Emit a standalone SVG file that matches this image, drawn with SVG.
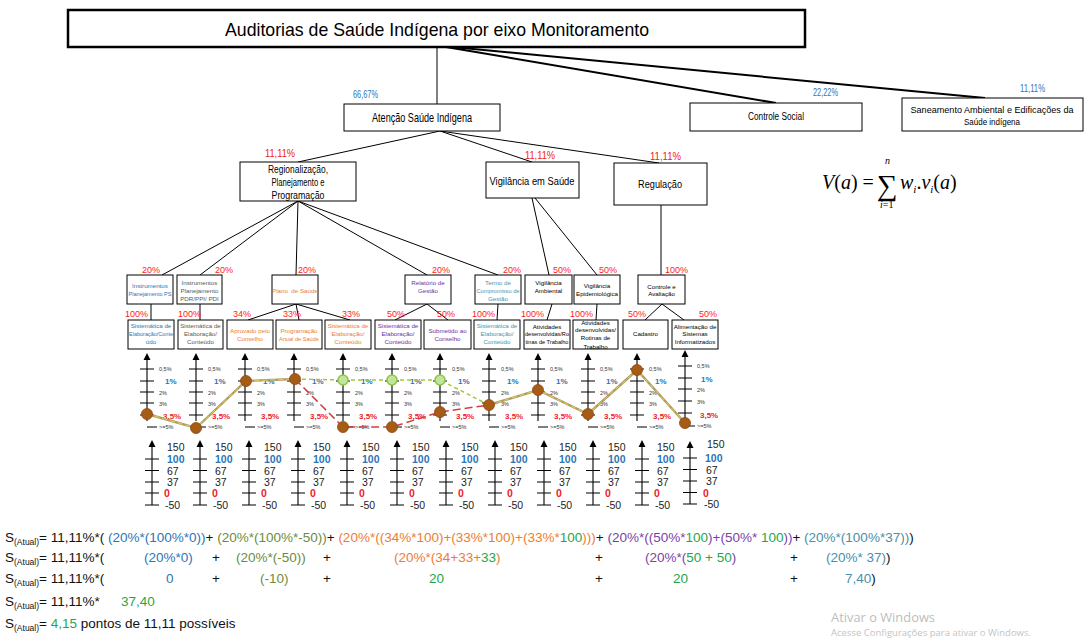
<svg xmlns="http://www.w3.org/2000/svg" width="1085" height="640" viewBox="0 0 1085 640">
<style>
text{font-family:"Liberation Sans",Arial,sans-serif;fill:#000}
.box{fill:#fff;stroke:#000;stroke-width:1}
.ln{fill:none;stroke:#000;stroke-width:1}
.lnb{fill:none;stroke:#000;stroke-width:2}
.bt{font-size:6.2px;text-anchor:middle}
.mid{text-anchor:middle}
.pr{font-size:9px;fill:#ff1a1a}
.pb{font-size:10px;fill:#2e75b6}
.p2{font-size:10px;fill:#ee2222}
.cBlue{fill:#2e75b6}.cGray{fill:#5a5a4a}.cOr{fill:#ed7d31}.cPu{fill:#7030a0}.cTe{fill:#3f97b3}
.axis{fill:none;stroke:#000;stroke-width:1.1}
.arr{fill:#000}
.s{font-size:5.5px;fill:#333}
.b1{font-size:8px;font-weight:bold;fill:#2e75b6}
.r35{font-size:8px;font-weight:bold;fill:#f0202a}
.n{font-size:10.5px;fill:#222}
.nb{font-size:10.5px;font-weight:bold;fill:#2e75b6}
.nr{font-size:10.5px;font-weight:bold;fill:#f0202a}
.f{font-size:13.5px;fill:#111}
.sub{font-size:8.5px}
.fb{fill:#2e75b6}.fo{fill:#6e8b3d}.for{fill:#ed7d31}.fp{fill:#7b3fa8}.ft{fill:#4a8fa8}.fg{fill:#1fa64a}
.brown{fill:#a65c14;stroke:#8b4513;stroke-width:0.8}
.green{fill:#c2e59a;stroke:#8cc84b;stroke-width:1.6}
.serif{font-family:"Liberation Serif","Times New Roman",serif}
</style>

<!-- tree connectors -->
<g id="connectors">
  <path class="ln" d="M437,47 V104"/>
  <path class="lnb" d="M446,47 L776,103"/>
  <path class="lnb" d="M452,47 L985,98"/>
  <path class="ln" d="M440,131 L298,162 M440,131 L532,162 M440,131 L659,163"/>
  <path class="ln" d="M298,201 L162,275 M298,201 L200,275 M298,201 L296,275 M298,201 L427,275 M298,201 L498,275"/>
  <path class="ln" d="M532,198 L549,275 M535,198 L597,275"/>
  <path class="ln" d="M661,205 V275"/>
  <path class="ln" d="M151,304 V320 M200,304 V320"/>
  <path class="ln" d="M296,304 L248,320 M296,304 L299,320 M296,304 L350,320"/>
  <path class="ln" d="M427,304 L395,320 M427,304 L448,320"/>
  <path class="ln" d="M498,304 L497,320 M552,304 L547,320 M597,304 L596,320"/>
  <path class="ln" d="M662,304 L645,320 M662,304 L684,320"/>
</g>

<!-- top levels -->
<g id="n-title">
  <rect x="68" y="10" width="737" height="37" fill="#fff" stroke="#000" stroke-width="2.5"/>
  <text x="437" y="36" class="mid" font-size="19" textLength="424" lengthAdjust="spacingAndGlyphs">Auditorias de Saúde Indígena por eixo Monitoramento</text>
</g>
<g id="n-atencao">
  <text x="353" y="98" class="pb" textLength="25" lengthAdjust="spacingAndGlyphs">66,67%</text>
  <rect class="box" x="344" y="104" width="156" height="27"/>
  <text x="422" y="122" class="mid" font-size="13" textLength="100" lengthAdjust="spacingAndGlyphs">Atenção Saúde Indígena</text>
</g>
<g id="n-controle-social">
  <text x="813" y="96" class="pb" textLength="25" lengthAdjust="spacingAndGlyphs">22,22%</text>
  <rect class="box" x="690" y="103" width="172" height="28"/>
  <text x="776" y="120" class="mid" font-size="10" textLength="56" lengthAdjust="spacingAndGlyphs">Controle Social</text>
</g>
<g id="n-saneamento">
  <text x="1020" y="92" class="pb" textLength="25" lengthAdjust="spacingAndGlyphs">11,11%</text>
  <rect class="box" x="902" y="98" width="181" height="33"/>
  <text x="992" y="113" class="mid" font-size="9.5" textLength="163" lengthAdjust="spacingAndGlyphs">Saneamento Ambiental e Edificações da</text>
  <text x="992" y="125" class="mid" font-size="9.5" textLength="56" lengthAdjust="spacingAndGlyphs">Saúde indígena</text>
</g>

<!-- second level -->
<g id="n-regionalizacao">
  <text x="265" y="157" class="p2" textLength="30" lengthAdjust="spacingAndGlyphs">11,11%</text>
  <rect class="box" x="240" y="162" width="116" height="39"/>
  <text x="298" y="173" class="mid" font-size="10" textLength="60" lengthAdjust="spacingAndGlyphs">Regionalização,</text>
  <text x="298" y="186" class="mid" font-size="10" textLength="53" lengthAdjust="spacingAndGlyphs">Planejamento e</text>
  <text x="298" y="199" class="mid" font-size="10" textLength="53" lengthAdjust="spacingAndGlyphs">Programação</text>
</g>
<g id="n-vigilancia">
  <text x="525" y="159" class="p2" textLength="30" lengthAdjust="spacingAndGlyphs">11,11%</text>
  <rect class="box" x="486" y="162" width="93" height="36"/>
  <text x="532" y="185" class="mid" font-size="10" textLength="85" lengthAdjust="spacingAndGlyphs">Vigilância em Saúde</text>
</g>
<g id="n-regulacao">
  <text x="650" y="160" class="p2" textLength="31" lengthAdjust="spacingAndGlyphs">11,11%</text>
  <rect class="box" x="614" y="163" width="93" height="42"/>
  <text x="660" y="188" class="mid" font-size="10" textLength="44" lengthAdjust="spacingAndGlyphs">Regulação</text>
</g>

<!-- third level -->
<g id="n-instr-ps">
  <text x="142" y="272.5" class="pr">20%</text>
  <rect class="box" x="127" y="275" width="46" height="29"/>
  <text x="150" y="288" class="bt cBlue">Instrumentos</text>
  <text x="150" y="296" class="bt cBlue" textLength="43" lengthAdjust="spacingAndGlyphs">Planejamento PS</text>
</g>
<g id="n-instr-pdr">
  <text x="215" y="272.5" class="pr">20%</text>
  <rect class="box" x="177" y="275" width="45" height="29"/>
  <text x="199.5" y="285" class="bt cGray">Instrumentos</text>
  <text x="199.5" y="293" class="bt cGray">Planejamento</text>
  <text x="199.5" y="301" class="bt cGray">PDR/PPI/ PDI</text>
</g>
<g id="n-plano">
  <text x="298" y="272.5" class="pr">20%</text>
  <rect class="box" x="272" y="275" width="46" height="29"/>
  <text x="295" y="293" class="bt cOr" xml:space="preserve">Plano  de Saúde</text>
</g>
<g id="n-relatorio">
  <text x="432" y="272.5" class="pr">20%</text>
  <rect class="box" x="405" y="275" width="46" height="29"/>
  <text x="428" y="285" class="bt cPu">Relatório de</text>
  <text x="428" y="293" class="bt cPu">Gestão</text>
</g>
<g id="n-termo">
  <text x="503" y="272.5" class="pr">20%</text>
  <rect class="box" x="475" y="275" width="46" height="29"/>
  <text x="498" y="285" class="bt cTe">Termo de</text>
  <text x="498" y="293" class="bt cTe" textLength="43" lengthAdjust="spacingAndGlyphs">Compromisso de</text>
  <text x="498" y="301" class="bt cTe">Gestão</text>
</g>
<g id="n-vig-ambiental">
  <text x="553" y="272.5" class="pr">50%</text>
  <rect class="box" x="525" y="275" width="47" height="29"/>
  <text x="548.5" y="285" class="bt">Vigilância</text>
  <text x="548.5" y="293" class="bt">Ambiental</text>
</g>
<g id="n-vig-epidemiologica">
  <text x="599" y="272.5" class="pr">50%</text>
  <rect class="box" x="574" y="275" width="46" height="29"/>
  <text x="597" y="288" class="bt">Vigilância</text>
  <text x="597" y="296" class="bt">Epidemiológica</text>
</g>
<g id="n-controle-avaliacao">
  <text x="665" y="272.5" class="pr">100%</text>
  <rect class="box" x="638" y="275" width="47" height="29"/>
  <text x="661.5" y="289" class="bt">Controle e</text>
  <text x="661.5" y="296" class="bt">Avaliação</text>
</g>

<!-- fourth level -->
<g id="n-sist-ps">
  <text x="125" y="316.5" class="pr">100%</text>
  <rect class="box" x="128" y="320" width="46" height="29"/>
  <text x="151" y="328" class="bt cBlue">Sistemática de</text>
  <text x="151" y="336" class="bt cBlue" textLength="44" lengthAdjust="spacingAndGlyphs">Elaboração/Conte</text>
  <text x="151" y="344" class="bt cBlue">údo</text>
</g>
<g id="n-sist-pdr">
  <text x="178" y="316.5" class="pr">100%</text>
  <rect class="box" x="178" y="320" width="45" height="29"/>
  <text x="200.5" y="328" class="bt cGray">Sistemática de</text>
  <text x="200.5" y="336" class="bt cGray">Elaboração/</text>
  <text x="200.5" y="344" class="bt cGray">Conteúdo</text>
</g>
<g id="n-aprovado">
  <text x="233" y="316.5" class="pr">34%</text>
  <rect class="box" x="227" y="320" width="46" height="29"/>
  <text x="250" y="333" class="bt cOr">Aprovado pelo</text>
  <text x="250" y="341" class="bt cOr">Conselho</text>
</g>
<g id="n-programacao">
  <text x="283" y="316.5" class="pr">33%</text>
  <rect class="box" x="276" y="320" width="46" height="29"/>
  <text x="299" y="333" class="bt cOr">Programação</text>
  <text x="299" y="341" class="bt cOr" textLength="40" lengthAdjust="spacingAndGlyphs">Anual de Saúde</text>
</g>
<g id="n-sist-plano">
  <text x="342" y="316.5" class="pr">33%</text>
  <rect class="box" x="325" y="320" width="46" height="29"/>
  <text x="348" y="328" class="bt cOr">Sistemática de</text>
  <text x="348" y="336" class="bt cOr">Elaboração/</text>
  <text x="348" y="344" class="bt cOr">Conteúdo</text>
</g>
<g id="n-sist-relatorio">
  <text x="387" y="316.5" class="pr">50%</text>
  <rect class="box" x="375" y="320" width="46" height="29"/>
  <text x="398" y="328" class="bt cPu">Sistemática de</text>
  <text x="398" y="336" class="bt cPu">Elaboração/</text>
  <text x="398" y="344" class="bt cPu">Conteúdo</text>
</g>
<g id="n-submetido">
  <text x="437" y="316.5" class="pr">50%</text>
  <rect class="box" x="424" y="320" width="47" height="29"/>
  <text x="447.5" y="333" class="bt cPu">Submetido ao</text>
  <text x="447.5" y="341" class="bt cPu">Conselho</text>
</g>
<g id="n-sist-termo">
  <text x="472" y="316.5" class="pr">100%</text>
  <rect class="box" x="474" y="320" width="46" height="29"/>
  <text x="497" y="328" class="bt cTe">Sistemática de</text>
  <text x="497" y="336" class="bt cTe">Elaboração/</text>
  <text x="497" y="344" class="bt cTe">Conteúdo</text>
</g>
<g id="n-atividades-amb">
  <text x="521" y="316.5" class="pr">100%</text>
  <rect class="box" x="524" y="320" width="46" height="29"/>
  <text x="547" y="329" class="bt">Atividades</text>
  <text x="547" y="336" class="bt" textLength="44" lengthAdjust="spacingAndGlyphs">desenvolvidas/Ro</text>
  <text x="547" y="344" class="bt" textLength="43" lengthAdjust="spacingAndGlyphs">tinas de Trabalho</text>
</g>
<g id="n-atividades-epi">
  <text x="570" y="316.5" class="pr">100%</text>
  <rect class="box" x="573" y="320" width="45" height="29"/>
  <text x="595.5" y="324.5" class="bt">Atividades</text>
  <text x="595.5" y="332" class="bt">desenvolvidas/</text>
  <text x="595.5" y="340" class="bt">Rotinas de</text>
  <text x="595.5" y="348.5" class="bt">Trabalho</text>
</g>
<g id="n-cadastro">
  <text x="628" y="316.5" class="pr">50%</text>
  <rect class="box" x="623" y="320" width="45" height="29"/>
  <text x="645.5" y="336" class="bt">Cadastro</text>
</g>
<g id="n-alimentacao">
  <text x="699" y="316.5" class="pr">50%</text>
  <rect class="box" x="672" y="320" width="46" height="29"/>
  <text x="695" y="329" class="bt">Alimentação de</text>
  <text x="695" y="336" class="bt">Sistemas</text>
  <text x="695" y="344" class="bt">Informatizados</text>
</g>

<!-- percentage scales (one per leaf) -->
<g id="pct-scales">
  <path class="axis" d="M147,360V421M140,369h14M140,381h14M140,392h14M140,403h14M140,415h14M147,427h10 M196,360V421M189,369h14M189,381h14M189,392h14M189,403h14M189,415h14M196,427h10 M245,360V421M238,369h14M238,381h14M238,392h14M238,403h14M238,415h14M245,427h10 M294,360V421M287,369h14M287,381h14M287,392h14M287,403h14M287,415h14M294,427h10 M343,360V421M336,369h14M336,381h14M336,392h14M336,403h14M336,415h14M343,427h10 M392,360V421M385,369h14M385,381h14M385,392h14M385,403h14M385,415h14M392,427h10 M440,360V421M433,369h14M433,381h14M433,392h14M433,403h14M433,415h14M440,427h10 M489,360V421M482,369h14M482,381h14M482,392h14M482,403h14M482,415h14M489,427h10 M538,360V421M531,369h14M531,381h14M531,392h14M531,403h14M531,415h14M538,427h10 M588,360V421M581,369h14M581,381h14M581,392h14M581,403h14M581,415h14M588,427h10 M637,360V421M630,369h14M630,381h14M630,392h14M630,403h14M630,415h14M637,427h10 M685,357V419M678,366h14M678,378h14M678,389h14M678,401h14M678,413h14M685,426h10"/>
  <path class="arr" d="M147,353l-3.5,7h7z M196,353l-3.5,7h7z M245,353l-3.5,7h7z M294,353l-3.5,7h7z M343,353l-3.5,7h7z M392,353l-3.5,7h7z M440,353l-3.5,7h7z M489,353l-3.5,7h7z M538,353l-3.5,7h7z M588,353l-3.5,7h7z M637,353l-3.5,7h7z M685,350l-3.5,7h7z"/>
  <g>
    <text x="159" y="371" class="s">0,5%</text><text x="165" y="384" class="b1">1%</text><text x="159" y="394.5" class="s">2%</text><text x="159" y="405.5" class="s">3%</text><text x="163" y="418.5" class="r35">3,5%</text><text x="159" y="429" class="s">&gt;=5%</text>
    <text x="208" y="371" class="s">0,5%</text><text x="214" y="384" class="b1">1%</text><text x="208" y="394.5" class="s">2%</text><text x="208" y="405.5" class="s">3%</text><text x="212" y="418.5" class="r35">3,5%</text><text x="208" y="429" class="s">&gt;=5%</text>
    <text x="257" y="371" class="s">0,5%</text><text x="263" y="384" class="b1">1%</text><text x="257" y="394.5" class="s">2%</text><text x="257" y="405.5" class="s">3%</text><text x="261" y="418.5" class="r35">3,5%</text><text x="257" y="429" class="s">&gt;=5%</text>
    <text x="306" y="371" class="s">0,5%</text><text x="312" y="384" class="b1">1%</text><text x="306" y="394.5" class="s">2%</text><text x="306" y="405.5" class="s">3%</text><text x="310" y="418.5" class="r35">3,5%</text><text x="306" y="429" class="s">&gt;=5%</text>
    <text x="355" y="371" class="s">0,5%</text><text x="361" y="384" class="b1">1%</text><text x="355" y="394.5" class="s">2%</text><text x="355" y="405.5" class="s">3%</text><text x="359" y="418.5" class="r35">3,5%</text><text x="355" y="429" class="s">&gt;=5%</text>
    <text x="404" y="371" class="s">0,5%</text><text x="410" y="384" class="b1">1%</text><text x="404" y="394.5" class="s">2%</text><text x="404" y="405.5" class="s">3%</text><text x="408" y="418.5" class="r35">3,5%</text><text x="404" y="429" class="s">&gt;=5%</text>
    <text x="452" y="371" class="s">0,5%</text><text x="458" y="384" class="b1">1%</text><text x="452" y="394.5" class="s">2%</text><text x="452" y="405.5" class="s">3%</text><text x="456" y="418.5" class="r35">3,5%</text><text x="452" y="429" class="s">&gt;=5%</text>
    <text x="501" y="371" class="s">0,5%</text><text x="507" y="384" class="b1">1%</text><text x="501" y="394.5" class="s">2%</text><text x="501" y="405.5" class="s">3%</text><text x="505" y="418.5" class="r35">3,5%</text><text x="501" y="429" class="s">&gt;=5%</text>
    <text x="550" y="371" class="s">0,5%</text><text x="556" y="384" class="b1">1%</text><text x="550" y="394.5" class="s">2%</text><text x="550" y="405.5" class="s">3%</text><text x="554" y="418.5" class="r35">3,5%</text><text x="550" y="429" class="s">&gt;=5%</text>
    <text x="600" y="371" class="s">0,5%</text><text x="606" y="384" class="b1">1%</text><text x="600" y="394.5" class="s">2%</text><text x="600" y="405.5" class="s">3%</text><text x="604" y="418.5" class="r35">3,5%</text><text x="600" y="429" class="s">&gt;=5%</text>
    <text x="649" y="371" class="s">0,5%</text><text x="655" y="384" class="b1">1%</text><text x="649" y="394.5" class="s">2%</text><text x="649" y="405.5" class="s">3%</text><text x="653" y="418.5" class="r35">3,5%</text><text x="649" y="429" class="s">&gt;=5%</text>
    <text x="697" y="368" class="s">0,5%</text><text x="701" y="382" class="b1">1%</text><text x="697" y="391.5" class="s">2%</text><text x="697" y="403.5" class="s">3%</text><text x="700" y="417.5" class="r35">3,5%</text><text x="697" y="428" class="s">&gt;=5%</text>
  </g>
</g>

<!-- points scales (one per leaf) -->
<g id="point-scales">
  <path class="axis" d="M152,446V505M145,459h14M145,470.5h14M145,482h14M145,493h14M145,505h14 M200,446V505M193,459h14M193,470.5h14M193,482h14M193,493h14M193,505h14 M249,446V505M242,459h14M242,470.5h14M242,482h14M242,493h14M242,505h14 M298,446V505M291,459h14M291,470.5h14M291,482h14M291,493h14M291,505h14 M347,446V505M340,459h14M340,470.5h14M340,482h14M340,493h14M340,505h14 M397,446V505M390,459h14M390,470.5h14M390,482h14M390,493h14M390,505h14 M446,446V505M439,459h14M439,470.5h14M439,482h14M439,493h14M439,505h14 M495,446V505M488,459h14M488,470.5h14M488,482h14M488,493h14M488,505h14 M544,446V505M537,459h14M537,470.5h14M537,482h14M537,493h14M537,505h14 M593,446V505M586,459h14M586,470.5h14M586,482h14M586,493h14M586,505h14 M642,446V505M635,459h14M635,470.5h14M635,482h14M635,493h14M635,505h14 M690,447V504M683,458h14M683,469.5h14M683,481h14M683,492.5h14M683,504h14"/>
  <path class="arr" d="M152,440l-3.5,7h7z M200,440l-3.5,7h7z M249,440l-3.5,7h7z M298,440l-3.5,7h7z M347,440l-3.5,7h7z M397,440l-3.5,7h7z M446,440l-3.5,7h7z M495,440l-3.5,7h7z M544,440l-3.5,7h7z M593,440l-3.5,7h7z M642,440l-3.5,7h7z M690,441l-3.5,7h7z"/>
  <g>
    <text x="167" y="451" class="n">150</text><text x="167" y="463" class="nb">100</text><text x="167" y="474.5" class="n">67</text><text x="167" y="486" class="n">37</text><text x="164" y="497" class="nr">0</text><text x="165" y="509" class="n">-50</text>
    <text x="215" y="451" class="n">150</text><text x="215" y="463" class="nb">100</text><text x="215" y="474.5" class="n">67</text><text x="215" y="486" class="n">37</text><text x="212" y="497" class="nr">0</text><text x="213" y="509" class="n">-50</text>
    <text x="264" y="451" class="n">150</text><text x="264" y="463" class="nb">100</text><text x="264" y="474.5" class="n">67</text><text x="264" y="486" class="n">37</text><text x="261" y="497" class="nr">0</text><text x="262" y="509" class="n">-50</text>
    <text x="313" y="451" class="n">150</text><text x="313" y="463" class="nb">100</text><text x="313" y="474.5" class="n">67</text><text x="313" y="486" class="n">37</text><text x="310" y="497" class="nr">0</text><text x="311" y="509" class="n">-50</text>
    <text x="362" y="451" class="n">150</text><text x="362" y="463" class="nb">100</text><text x="362" y="474.5" class="n">67</text><text x="362" y="486" class="n">37</text><text x="359" y="497" class="nr">0</text><text x="360" y="509" class="n">-50</text>
    <text x="412" y="451" class="n">150</text><text x="412" y="463" class="nb">100</text><text x="412" y="474.5" class="n">67</text><text x="412" y="486" class="n">37</text><text x="409" y="497" class="nr">0</text><text x="410" y="509" class="n">-50</text>
    <text x="461" y="451" class="n">150</text><text x="461" y="463" class="nb">100</text><text x="461" y="474.5" class="n">67</text><text x="461" y="486" class="n">37</text><text x="458" y="497" class="nr">0</text><text x="459" y="509" class="n">-50</text>
    <text x="510" y="451" class="n">150</text><text x="510" y="463" class="nb">100</text><text x="510" y="474.5" class="n">67</text><text x="510" y="486" class="n">37</text><text x="507" y="497" class="nr">0</text><text x="508" y="509" class="n">-50</text>
    <text x="559" y="451" class="n">150</text><text x="559" y="463" class="nb">100</text><text x="559" y="474.5" class="n">67</text><text x="559" y="486" class="n">37</text><text x="556" y="497" class="nr">0</text><text x="557" y="509" class="n">-50</text>
    <text x="608" y="451" class="n">150</text><text x="608" y="463" class="nb">100</text><text x="608" y="474.5" class="n">67</text><text x="608" y="486" class="n">37</text><text x="605" y="497" class="nr">0</text><text x="606" y="509" class="n">-50</text>
    <text x="657" y="451" class="n">150</text><text x="657" y="463" class="nb">100</text><text x="657" y="474.5" class="n">67</text><text x="657" y="486" class="n">37</text><text x="654" y="497" class="nr">0</text><text x="655" y="509" class="n">-50</text>
    <text x="707" y="448" class="n">150</text><text x="705" y="462" class="nb">100</text><text x="706" y="473.5" class="n">67</text><text x="706" y="485" class="n">37</text><text x="703" y="496.5" class="nr">0</text><text x="704" y="508" class="n">-50</text>
  </g>
</g>

<!-- performance series drawn over the percentage scales -->
<g id="series">
  <path d="M147,414 L196,428 L246,381 L295,379 M489,405 L538,390 L588,414 L637,370 L685,423" fill="none" stroke="#b39b5c" stroke-width="2.4"/>
  <path d="M147,414 L196,428 L246,381 L295,379 M489,405 L538,390 L588,414 L637,370 L685,423" fill="none" stroke="#d9d86a" stroke-width="0.9" stroke-dasharray="5 3"/>
  <path d="M295,379 L343,427 L392,427 L440,412 L489,405" fill="none" stroke="#d0403a" stroke-width="1.5" stroke-dasharray="8 4"/>
  <path d="M295,379 L343,380 L392,380 L440,380 L489,405" fill="none" stroke="#a4c83c" stroke-width="1.5" stroke-dasharray="4 3"/>
  <circle class="brown" cx="147" cy="414" r="5.5"/>
  <circle class="brown" cx="196" cy="428" r="5.5"/>
  <circle class="brown" cx="246" cy="381" r="5.5"/>
  <circle class="brown" cx="295" cy="379" r="5.5"/>
  <circle class="brown" cx="343" cy="427" r="5.5"/>
  <circle class="brown" cx="392" cy="427" r="5.5"/>
  <circle class="brown" cx="440" cy="412" r="5.5"/>
  <circle class="brown" cx="489" cy="405" r="5.5"/>
  <circle class="brown" cx="538" cy="390" r="5.5"/>
  <circle class="brown" cx="588" cy="414" r="5.5"/>
  <circle class="brown" cx="637" cy="370" r="5.5"/>
  <circle class="brown" cx="685" cy="423" r="5.5"/>
  <circle class="green" cx="343" cy="380" r="5"/>
  <circle class="green" cx="392" cy="380" r="5"/>
  <circle class="green" cx="440" cy="380" r="5"/>
</g>

<!-- additive value function -->
<g id="value-function">
  <text x="822" y="189" font-size="20" class="serif"><tspan font-style="italic">V</tspan>(<tspan font-style="italic">a</tspan>) =</text>
  <text x="877" y="195" font-size="29" class="serif">∑</text>
  <text x="885" y="164" font-size="10" font-style="italic" class="serif">n</text>
  <text x="880" y="208" font-size="10" class="serif"><tspan font-style="italic">i</tspan>=1</text>
  <text x="900" y="189" font-size="20" class="serif"><tspan font-style="italic">w</tspan><tspan font-size="11" font-style="italic" dy="4">i</tspan><tspan dy="-4">.</tspan><tspan font-style="italic">v</tspan><tspan font-size="11" font-style="italic" dy="4">i</tspan><tspan dy="-4">(</tspan><tspan font-style="italic">a</tspan>)</text>
</g>

<!-- score calculation -->
<g id="score">
  <text class="f" x="5" y="542" xml:space="preserve">S<tspan class="sub" dy="3">(Atual)</tspan><tspan dy="-3">= 11,11%*( </tspan><tspan class="fb">(20%*(100%*0))</tspan>+ <tspan class="fo">(20%*(100%*-50))</tspan>+ <tspan class="for">(20%*((34%*100)+(33%*100)+(33%*</tspan><tspan class="fg">100</tspan><tspan class="for">)))</tspan>+ <tspan class="fp">(20%*((50%*</tspan><tspan class="fg">100</tspan><tspan class="fp">)+(50%* </tspan><tspan class="fg">100</tspan><tspan class="fp">))</tspan>+ <tspan class="ft">(20%*(100%*37))</tspan>)</text>
  <text class="f" y="562" xml:space="preserve"><tspan x="5">S</tspan><tspan class="sub" dy="3">(Atual)</tspan><tspan dy="-3">= 11,11%*(</tspan><tspan x="144" class="fb">(20%*0)</tspan><tspan x="212">+</tspan><tspan x="236" class="fo">(20%*(-50))</tspan><tspan x="323">+</tspan><tspan x="394" class="for">(20%*(34+33+</tspan><tspan class="fg">33</tspan><tspan class="for">)</tspan><tspan x="595">+</tspan><tspan x="645" class="fp">(20%*(</tspan><tspan class="fg">50 + 50</tspan><tspan class="fp">)</tspan><tspan x="790">+</tspan><tspan x="826" class="ft">(20%* 37)</tspan>)</text>
  <text class="f" y="583" xml:space="preserve"><tspan x="5">S</tspan><tspan class="sub" dy="3">(Atual)</tspan><tspan dy="-3">= 11,11%*(</tspan><tspan x="166" class="fb">0</tspan><tspan x="212">+</tspan><tspan x="260" class="fo">(-10)</tspan><tspan x="323">+</tspan><tspan x="429" class="fg">20</tspan><tspan x="595">+</tspan><tspan x="673" class="fg">20</tspan><tspan x="790">+</tspan><tspan x="845" class="ft">7,40</tspan>)</text>
  <text class="f" y="606" xml:space="preserve"><tspan x="5">S</tspan><tspan class="sub" dy="3">(Atual)</tspan><tspan dy="-3">= 11,11%*</tspan><tspan x="121" class="fg">37,40</tspan></text>
  <text class="f" y="628" xml:space="preserve"><tspan x="5">S</tspan><tspan class="sub" dy="3">(Atual)</tspan><tspan dy="-3">= </tspan><tspan class="fg">4,15</tspan> pontos de 11,11 possíveis</text>
</g>

<g id="watermark">
  <text x="831" y="622" font-size="13.5" style="font-family:'Open Sans','Liberation Sans',sans-serif;fill:#bdbdbd" textLength="104" lengthAdjust="spacingAndGlyphs">Ativar o Windows</text>
  <text x="831" y="636" font-size="9" style="font-family:'Open Sans','Liberation Sans',sans-serif;fill:#c4c4c4" textLength="200" lengthAdjust="spacingAndGlyphs">Acesse Configurações para ativar o Windows.</text>
</g>
</svg>
